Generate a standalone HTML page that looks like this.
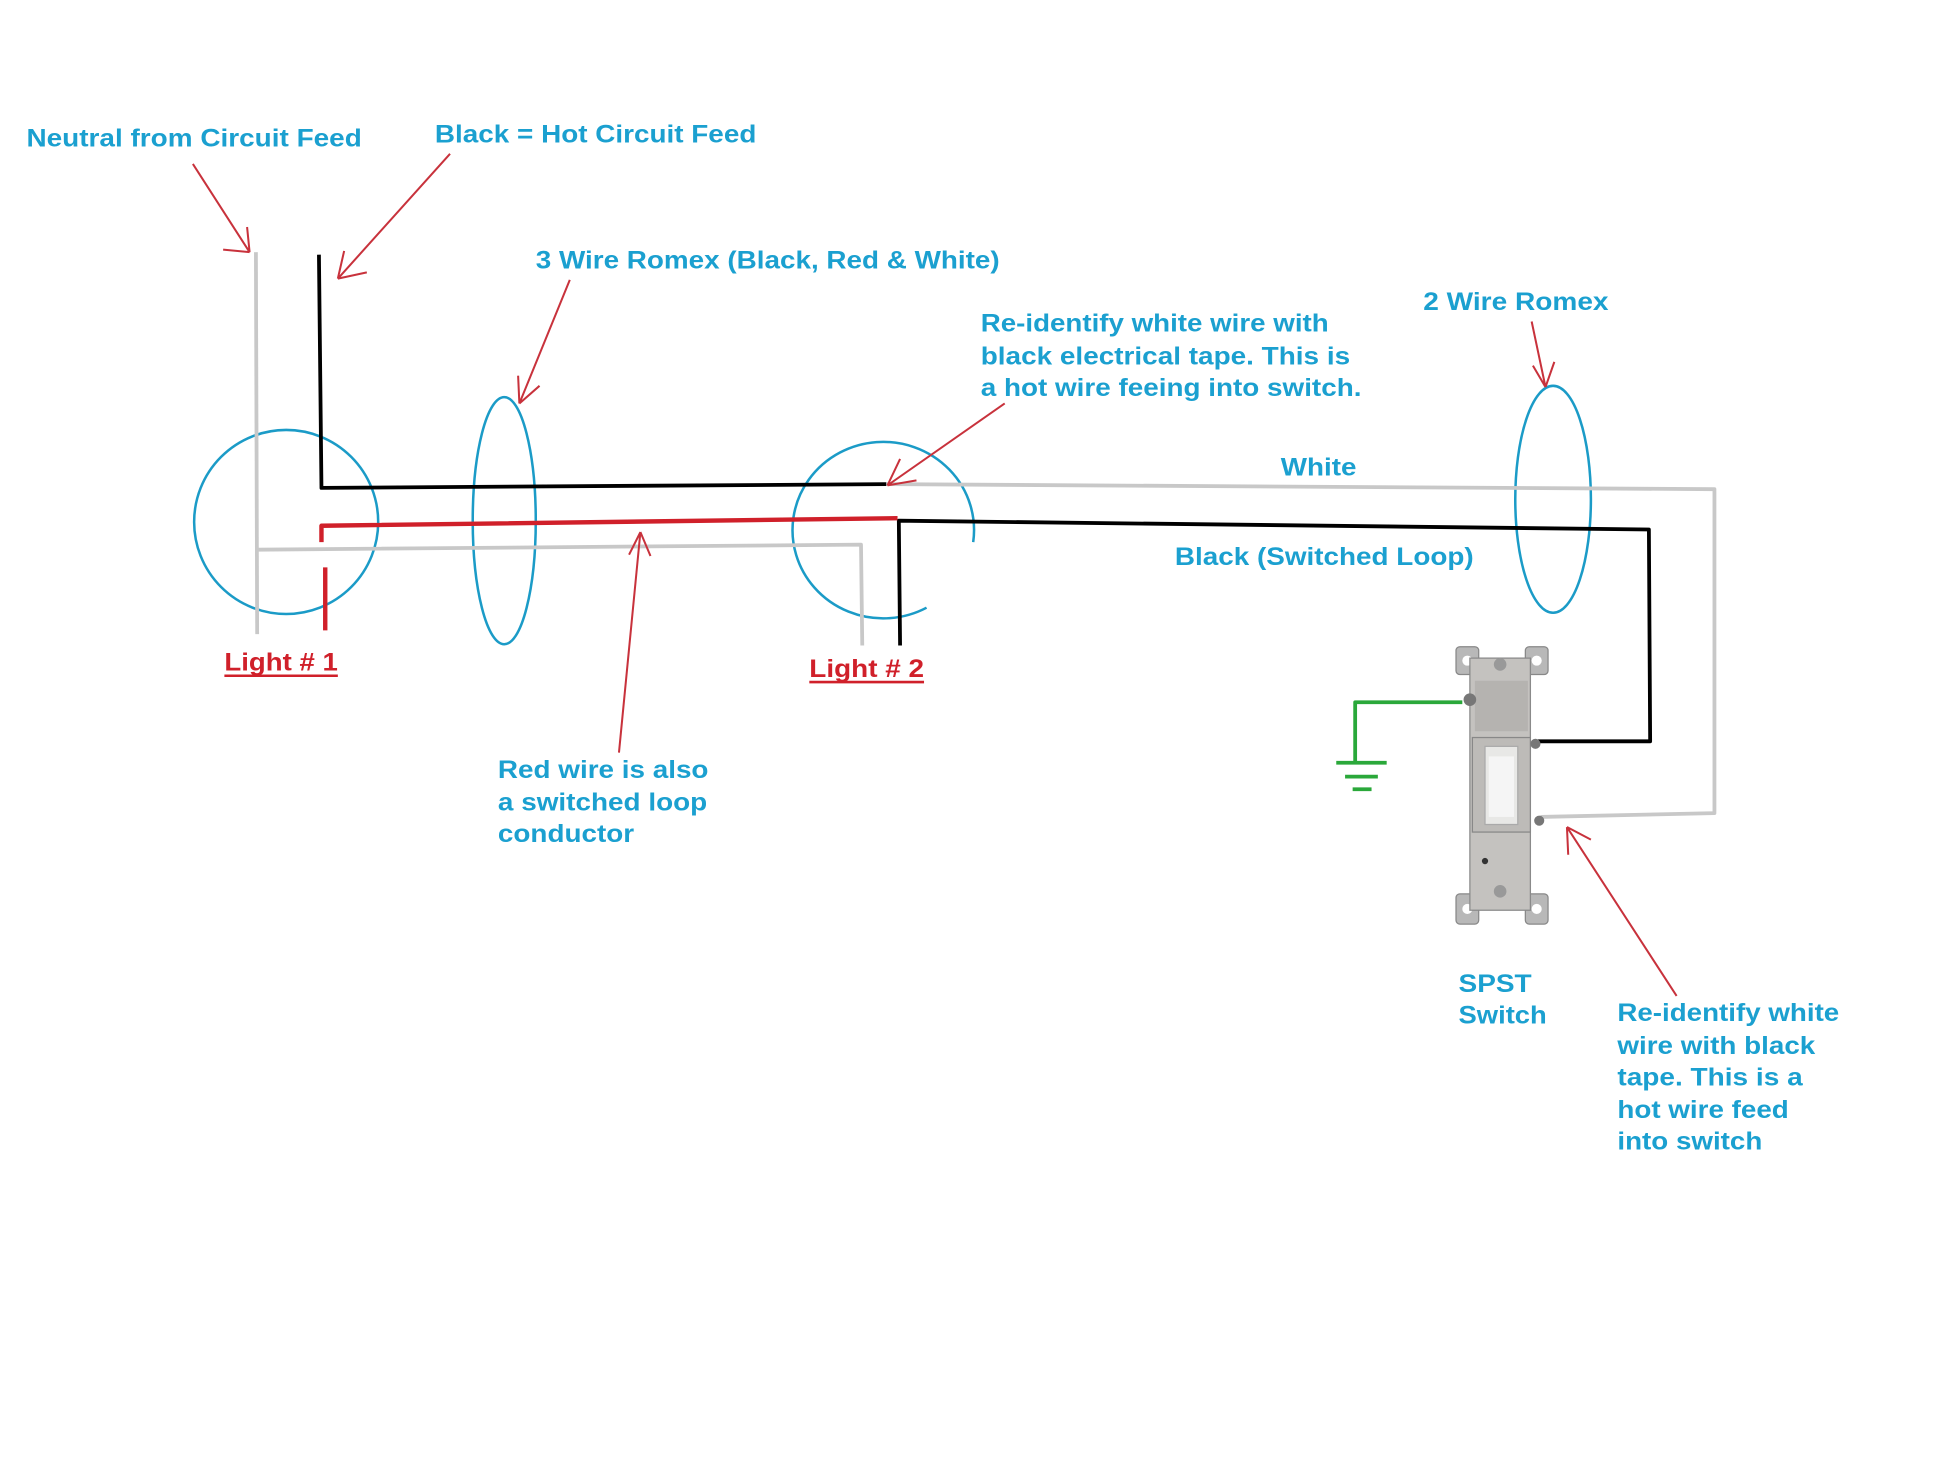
<!DOCTYPE html>
<html><head><meta charset="utf-8"><style>html,body{margin:0;padding:0;background:#fff}svg{display:block}</style></head>
<body>
<svg width="1959" height="1470" viewBox="0 0 1554 1166" xmlns="http://www.w3.org/2000/svg">
<rect width="1554" height="1166" fill="#fff"/>
<g fill="none" stroke-linejoin="round">
<!-- circles / ellipses -->
<circle cx="227" cy="414" r="73" stroke="#1b9bc7" stroke-width="2"/>
<path d="M735,482 A72,70 0 1 1 772,430" stroke="#1b9bc7" stroke-width="2"/>
<ellipse cx="400" cy="413" rx="25" ry="98" stroke="#1b9bc7" stroke-width="2"/>
<ellipse cx="1232" cy="396" rx="30" ry="90" stroke="#1b9bc7" stroke-width="2"/>
<!-- gray wires -->
<path d="M203,200 L204,503" stroke="#c8c8c8" stroke-width="3"/>
<path d="M204,436 L683,432 L684,512" stroke="#c8c8c8" stroke-width="3"/>
<path d="M703,384 L1360,388 L1360,645 L1222,648" stroke="#c8c8c8" stroke-width="3"/>
<!-- black -->
<path d="M253,202 L255,387 L703,384" stroke="#000" stroke-width="3"/>
<path d="M714,512 L713,413 L1308,420 L1309,588 L1220,588" stroke="#000" stroke-width="3"/>
<!-- red -->
<path d="M255,430 L255,417 L712,411" stroke="#d0202a" stroke-width="3.5"/>
<path d="M258,450 L258,500" stroke="#d0202a" stroke-width="3.5"/>
<!-- green ground -->
<path d="M1160,557 L1075,557 L1075,605" stroke="#2aa83a" stroke-width="3"/>
<path d="M1060,605 H1100 M1067,616 H1093 M1073,626 H1088" stroke="#2aa83a" stroke-width="3"/>
<!-- red arrows -->
<g stroke="#c8323c" stroke-width="1.6">
<path d="M153,130 L198,200 M198,200 L177,198 M198,200 L196,180"/>
<path d="M357,122 L268,221 M268,221 L291,216 M268,221 L273,199"/>
<path d="M452,222 L412,320 M412,320 L428,306 M412,320 L411,298"/>
<path d="M797,320 L704,385 M704,385 L727,381 M704,385 L714,364"/>
<path d="M1215,255 L1226,307 M1226,307 L1233,287 M1226,307 L1216,290"/>
<path d="M491,597 L508,422 M508,422 L499,440 M508,422 L516,441"/>
<path d="M1330,790 L1243,656 M1243,656 L1244,678 M1243,656 L1262,666"/>
</g>
</g>
<!-- switch -->
<g>
<rect x="1155" y="513" width="18" height="22" rx="3" fill="#b8b8b8" stroke="#888"/>
<rect x="1210" y="513" width="18" height="22" rx="3" fill="#b8b8b8" stroke="#888"/>
<rect x="1155" y="709" width="18" height="24" rx="3" fill="#b8b8b8" stroke="#888"/>
<rect x="1210" y="709" width="18" height="24" rx="3" fill="#b8b8b8" stroke="#888"/>
<circle cx="1164" cy="524" r="4" fill="#fff"/><circle cx="1219" cy="524" r="4" fill="#fff"/>
<circle cx="1164" cy="721" r="4" fill="#fff"/><circle cx="1219" cy="721" r="4" fill="#fff"/>
<rect x="1166" y="522" width="48" height="200" fill="#c4c2bf" stroke="#8a8a8a"/>
<rect x="1170" y="540" width="42" height="40" fill="#b5b3b0"/>
<rect x="1168" y="585" width="46" height="75" fill="#bdbbb8" stroke="#888"/>
<rect x="1178" y="592" width="26" height="62" fill="#e8e8e6" stroke="#aaa"/>
<rect x="1181" y="600" width="20" height="48" fill="#f5f5f5"/>
<circle cx="1190" cy="527" r="5" fill="#999"/><circle cx="1190" cy="707" r="5" fill="#999"/>
<circle cx="1166" cy="555" r="5" fill="#777"/><circle cx="1218" cy="590" r="4" fill="#777"/><circle cx="1221" cy="651" r="4" fill="#777"/>
<circle cx="1178" cy="683" r="2.5" fill="#333"/>
</g>
<!-- text -->
<g font-family="'Liberation Sans', Arial, sans-serif" font-weight="bold" font-size="20" fill="#1ba0d0">
<text x="21" y="116" textLength="266" lengthAdjust="spacingAndGlyphs">Neutral from Circuit Feed</text>
<text x="345" y="113" textLength="255" lengthAdjust="spacingAndGlyphs">Black = Hot Circuit Feed</text>
<text x="425" y="213" textLength="368" lengthAdjust="spacingAndGlyphs">3 Wire Romex (Black, Red &amp; White)</text>
<text x="778" y="263" textLength="276" lengthAdjust="spacingAndGlyphs">Re-identify white wire with</text>
<text x="778" y="289" textLength="293" lengthAdjust="spacingAndGlyphs">black electrical tape. This is</text>
<text x="778" y="314" textLength="302" lengthAdjust="spacingAndGlyphs">a hot wire feeing into switch.</text>
<text x="1129" y="246" textLength="147" lengthAdjust="spacingAndGlyphs">2 Wire Romex</text>
<text x="1016" y="377" textLength="60" lengthAdjust="spacingAndGlyphs">White</text>
<text x="932" y="448" textLength="237" lengthAdjust="spacingAndGlyphs">Black (Switched Loop)</text>
<text x="395" y="617" textLength="167" lengthAdjust="spacingAndGlyphs">Red wire is also</text>
<text x="395" y="643" textLength="166" lengthAdjust="spacingAndGlyphs">a switched loop</text>
<text x="395" y="668" textLength="108" lengthAdjust="spacingAndGlyphs">conductor</text>
<text x="1157" y="787" textLength="58" lengthAdjust="spacingAndGlyphs">SPST</text>
<text x="1157" y="812" textLength="70" lengthAdjust="spacingAndGlyphs">Switch</text>
<text x="1283" y="810" textLength="176" lengthAdjust="spacingAndGlyphs">Re-identify white</text>
<text x="1283" y="836" textLength="157" lengthAdjust="spacingAndGlyphs">wire with black</text>
<text x="1283" y="861" textLength="147" lengthAdjust="spacingAndGlyphs">tape. This is a</text>
<text x="1283" y="887" textLength="136" lengthAdjust="spacingAndGlyphs">hot wire feed</text>
<text x="1283" y="912" textLength="115" lengthAdjust="spacingAndGlyphs">into switch</text>
</g>
<g font-family="'Liberation Sans', Arial, sans-serif" font-weight="bold" font-size="20" fill="#d0202a">
<text x="178" y="532" textLength="90" lengthAdjust="spacingAndGlyphs">Light # 1</text>
<text x="642" y="537" textLength="91" lengthAdjust="spacingAndGlyphs">Light # 2</text>
</g>
<path d="M178,536 H268 M642,541 H733" stroke="#d0202a" stroke-width="2"/>
</svg>
</body></html>
